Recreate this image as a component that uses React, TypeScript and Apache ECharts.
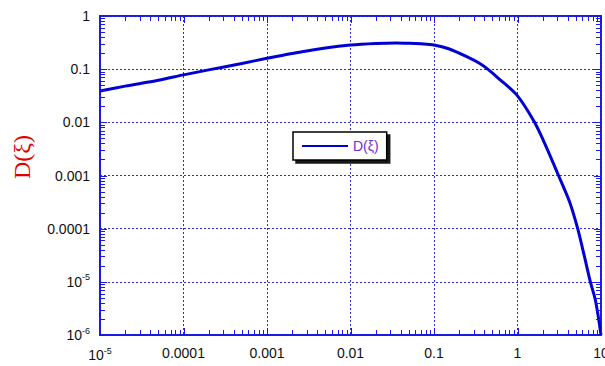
import React, { useEffect, useRef } from "react";
import * as echarts from "echarts";

// Curve D(xi)
const xiValues = [
  1e-5, 2e-5, 5e-5, 1e-4, 2e-4, 5e-4, 1e-3, 2e-3, 5e-3, 0.01, 0.02, 0.035, 0.05, 0.07,
  0.1, 0.15, 0.25, 0.35, 0.44, 0.6, 1, 1.6, 2.2, 3.1, 4.2, 5.26, 6.3, 7.46, 8.6, 10,
];
const dValues = [
  0.039, 0.048, 0.062, 0.078, 0.097, 0.128, 0.16, 0.197, 0.25, 0.285, 0.305, 0.312, 0.308, 0.3,
  0.285, 0.242, 0.17, 0.129, 0.1, 0.066, 0.0315, 0.01, 0.0035, 0.001, 0.00032, 0.0001,
  0.000031, 0.00001, 0.0000044, 0.000001,
];

const seriesName = "D(ξ)";
const yTitle = "D(ξ)";

// Tick labels (by decade exponent)
const xTickLabels: Record<number, string> = {
  [-5]: "{b|10}{s|-5}",
  [-4]: "{b|0.0001}",
  [-3]: "{b|0.001}",
  [-2]: "{b|0.01}",
  [-1]: "{b|0.1}",
  [0]: "{b|1}",
  [1]: "{b|10}",
};
const yTickLabels: Record<number, string> = {
  [0]: "{b|1}",
  [-1]: "{b|0.1}",
  [-2]: "{b|0.01}",
  [-3]: "{b|0.001}",
  [-4]: "{b|0.0001}",
  [-5]: "{b|10}{s|-5}",
  [-6]: "{b|10}{s|-6}",
};

const xDecades = [-5, -4, -3, -2, -1, 0];
const yDecades = [-6, -5, -4, -3, -2, -1];
const minorMultipliers = [2, 3, 4, 5, 6, 7, 8, 9];

const tickValues = (decades: number[]) => {
  const out: [number, number][] = [];
  decades.forEach((d) => {
    out.push([Math.pow(10, d), 1]);
    minorMultipliers.forEach((m) => out.push([m * Math.pow(10, d), 0]));
  });
  const last = decades[decades.length - 1] + 1;
  out.push([Math.pow(10, last), 1]);
  return out;
};

const FRAME = "#1a1ae6";
const GRID = "#2a2ae0";
const CURVE = "#0000d2";
const FONT = "'Liberation Sans', Arial, sans-serif";

export default function App() {
  const ref = useRef<HTMLDivElement>(null);

  useEffect(() => {
    document.body.style.margin = "0";
    if (!ref.current) return;
    const chart = echarts.init(ref.current, undefined, { renderer: "svg" });

    const rich = {
      b: { fontSize: 14, fontFamily: FONT, color: "#111" },
      s: { fontSize: 9, fontFamily: FONT, color: "#111", padding: [0, 0, 9, 0] },
    };
    const xLab = (v: number) => xTickLabels[Math.round(Math.log10(v))] ?? "";
    const yLab = (v: number) => yTickLabels[Math.round(Math.log10(v))] ?? "";

    const MAJOR_LEN = 7;
    const MINOR_LEN = 5;

    const titleGraphic = {
      type: "text",
      x: 22,
      y: 157,
      rotation: Math.PI / 2,
      style: {
        text: yTitle,
        fill: "#e00000",
        font: "24px 'Liberation Serif', 'Times New Roman', serif",
        align: "center",
        verticalAlign: "middle",
      },
    };

    chart.setOption({
      animation: false,
      grid: {
        left: 100,
        right: 4,
        top: 16,
        bottom: 31,
        containLabel: false,
        outerBoundsMode: "none",
        show: true,
        borderColor: FRAME,
        borderWidth: 2,
        backgroundColor: "transparent",
      },
      xAxis: {
        type: "log",
        logBase: 10,
        min: 1e-5,
        max: 10,
        splitNumber: 6,
        axisLine: { show: true, onZero: false, lineStyle: { color: FRAME, width: 2 } },
        axisTick: { show: false },
        axisLabel: { show: true, margin: 11, formatter: xLab, rich, hideOverlap: false },
        splitLine: { show: true, lineStyle: { color: GRID, type: [2, 2], width: 1 } },
      },
      yAxis: {
        type: "log",
        logBase: 10,
        min: 1e-6,
        max: 1,
        splitNumber: 6,
        axisLine: { show: true, onZero: false, lineStyle: { color: FRAME, width: 2 } },
        axisTick: { show: false },
        axisLabel: { show: true, margin: 10, formatter: yLab, rich, hideOverlap: false },
        splitLine: { show: true, lineStyle: { color: GRID, type: [2, 2], width: 1 } },
      },
      legend: {
        show: true,
        left: 293,
        top: 132,
        orient: "vertical",
        padding: [7, 8, 7, 9],
        itemWidth: 46,
        itemHeight: 14,
        backgroundColor: "#ffffff",
        borderColor: "#000000",
        borderWidth: 1.5,
        borderRadius: 0,
        shadowColor: "rgba(0,0,0,0.9)",
        shadowBlur: 0,
        shadowOffsetX: 3,
        shadowOffsetY: 3,
        textStyle: { color: "#6a30d8", fontSize: 14, fontFamily: FONT },
        data: [{ name: seriesName, icon: "path://M0,6 L46,6 L46,8 L0,8 Z" }],
        itemStyle: { color: CURVE },
      },
      graphic: { elements: [titleGraphic] },
      series: [
        {
          name: seriesName,
          type: "line",
          data: xiValues.map((x, i) => [x, dValues[i]]),
          showSymbol: false,
          symbol: "none",
          smooth: 0.3,
          lineStyle: { color: CURVE, width: 3 },
          itemStyle: { color: CURVE },
          clip: true,
          z: 3,
        },
      ],
    });

    // Ticks placed through the axes' own scales
    const toX = (v: number) => Number(chart.convertToPixel({ xAxisIndex: 0 }, v));
    const toY = (v: number) => Number(chart.convertToPixel({ yAxisIndex: 0 }, v));
    const left = toX(1e-5);
    const right = toX(10);
    const top = toY(1);
    const bottom = toY(1e-6);
    const tickEls: any[] = [];
    const mk = (x1: number, y1: number, x2: number, y2: number) => ({
      type: "line",
      silent: true,
      z: 5,
      shape: { x1, y1, x2, y2 },
      style: { stroke: FRAME, lineWidth: 1 },
    });
    tickValues(xDecades).forEach(([v, major]) => {
      const px = Math.round(toX(v)) + 0.5;
      const len = major ? MAJOR_LEN : MINOR_LEN;
      tickEls.push(mk(px, bottom, px, bottom - len));
      tickEls.push(mk(px, top, px, top + len));
    });
    tickValues(yDecades).forEach(([v, major]) => {
      const py = Math.round(toY(v)) + 0.5;
      const len = major ? MAJOR_LEN : MINOR_LEN;
      tickEls.push(mk(left, py, left + len, py));
      tickEls.push(mk(right, py, right - len, py));
    });
    chart.setOption({ graphic: { elements: [titleGraphic, ...tickEls] } });

    return () => chart.dispose();
  }, []);

  return <div ref={ref} style={{ width: 605, height: 366 }} />;
}
